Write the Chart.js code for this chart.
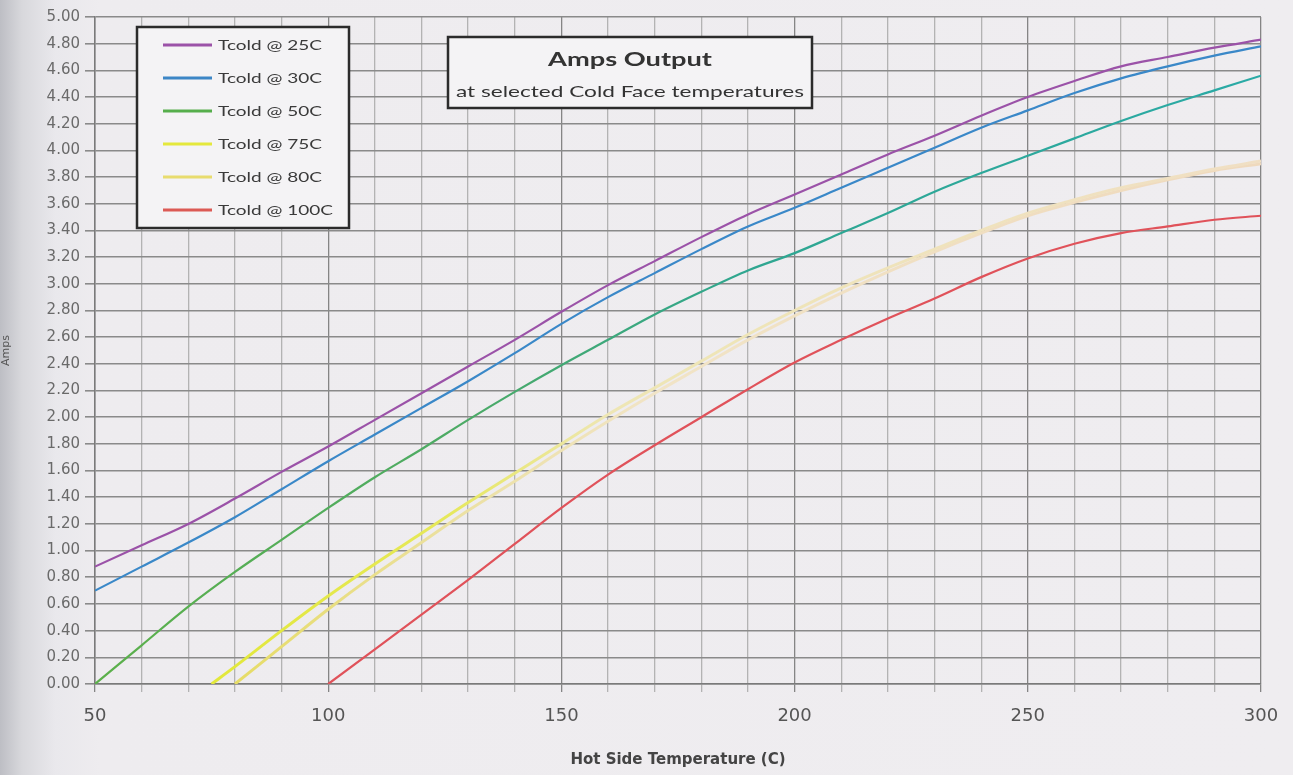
<!DOCTYPE html>
<html>
<head>
<meta charset="utf-8">
<script src="https://cdn.jsdelivr.net/npm/chart.js@4"></script>
<style>
  html, body { margin: 0; padding: 0; }
  #wrap {
    width: 1293px; height: 775px;
    background: linear-gradient(to right, #bdbec4 0px, #d8d8dc 22px, #e9e8ec 55px, #eeecef 100px, #efedf0 100%);
  }
</style>
</head>
<body>
<div id="wrap"><canvas id="ampsChart" width="1293" height="775"></canvas></div>
<script>
const FONT = 'Lato, "Open Sans", sans-serif';
const AXIS_FONT = '"DejaVu Sans", Lato, sans-serif';

// hot side temperatures (C) and amps
const hotTemps = [50, 60, 70, 80, 90, 100, 110, 120, 130, 140, 150, 160, 170, 180, 190, 200, 210, 220, 230, 240, 250, 260, 270, 280, 290, 300];
const amps25 = [0.88, 1.04, 1.20, 1.39, 1.59, 1.78, 1.98, 2.18, 2.38, 2.58, 2.79, 2.99, 3.17, 3.35, 3.52, 3.67, 3.82, 3.97, 4.11, 4.26, 4.40, 4.52, 4.63, 4.70, 4.77, 4.83];
const amps30 = [0.70, 0.88, 1.06, 1.25, 1.46, 1.67, 1.87, 2.07, 2.27, 2.48, 2.70, 2.90, 3.08, 3.26, 3.43, 3.57, 3.72, 3.87, 4.02, 4.17, 4.30, 4.43, 4.54, 4.63, 4.71, 4.78];
const amps50 = [0.00, 0.29, 0.58, 0.84, 1.08, 1.32, 1.55, 1.76, 1.98, 2.19, 2.39, 2.58, 2.77, 2.94, 3.10, 3.23, 3.38, 3.53, 3.69, 3.83, 3.96, 4.09, 4.22, 4.34, 4.45, 4.56];

const hotTemps75 = [75, 80, 90, 100, 110, 120, 130, 140, 150, 160, 170, 180, 190, 200, 210, 220, 230, 240, 250, 260, 270, 280, 290, 300];
const amps75 = [0.00, 0.13, 0.40, 0.66, 0.90, 1.13, 1.36, 1.58, 1.80, 2.02, 2.22, 2.42, 2.62, 2.80, 2.97, 3.12, 3.26, 3.40, 3.53, 3.63, 3.72, 3.79, 3.86, 3.92];

const hotTemps80 = [80, 90, 100, 110, 120, 130, 140, 150, 160, 170, 180, 190, 200, 210, 220, 230, 240, 250, 260, 270, 280, 290, 300];
const amps80 = [0.00, 0.28, 0.56, 0.82, 1.06, 1.30, 1.52, 1.75, 1.97, 2.18, 2.38, 2.58, 2.76, 2.93, 3.09, 3.24, 3.38, 3.51, 3.61, 3.70, 3.78, 3.85, 3.90];

const hotTemps100 = [100, 110, 120, 130, 140, 150, 160, 170, 180, 190, 200, 210, 220, 230, 240, 250, 260, 270, 280, 290, 300];
const amps100 = [0.00, 0.26, 0.52, 0.78, 1.05, 1.32, 1.57, 1.79, 2.00, 2.21, 2.41, 2.58, 2.74, 2.89, 3.05, 3.19, 3.30, 3.38, 3.43, 3.48, 3.51];

const seriesLabels = ['Tcold @ 25C', 'Tcold @ 30C', 'Tcold @ 50C', 'Tcold @ 75C', 'Tcold @ 80C', 'Tcold @ 100C'];
const legendColors = ['#9b52a8', '#3c86c6', '#56ae4c', '#e4e83c', '#e8dc6e', '#dc5a55'];

const pts = (xs, ys) => xs.map((x, i) => ({ x, y: ys[i] }));

// colour fades along x like in the scan (green -> teal, yellow -> pale)
function fade(stops, fallback) {
  return function(context) {
    const chart = context.chart;
    const area = chart.chartArea;
    if (!area) return fallback;
    const xs = chart.scales.x;
    const g = chart.ctx.createLinearGradient(area.left, 0, area.right, 0);
    stops.forEach(([v, c]) => {
      const p = (xs.getPixelForValue(v) - area.left) / (area.right - area.left);
      g.addColorStop(Math.min(1, Math.max(0, p)), c);
    });
    return g;
  };
}

// the scanned text is wide, so stretch it horizontally
function wideText(ctx, text, x, y, sx, align) {
  const w = ctx.measureText(text).width * sx;
  const left = align === 'center' ? x - w / 2 : x;
  ctx.save();
  ctx.translate(left, y);
  ctx.scale(sx, 1);
  ctx.textAlign = 'left';
  ctx.fillText(text, 0, 0);
  ctx.restore();
}

const boxesPlugin = {
  id: 'boxes',
  afterDatasetsDraw(chart) {
    const { ctx } = chart;
    ctx.save();

    // legend box
    const lx = 137, ly = 27, lw = 212, lh = 201;
    ctx.fillStyle = '#f4f3f5';
    ctx.fillRect(lx, ly, lw, lh);
    ctx.lineWidth = 2.5;
    ctx.strokeStyle = '#2b2b2b';
    ctx.strokeRect(lx, ly, lw, lh);
    ctx.font = '14px ' + FONT;
    ctx.textBaseline = 'middle';
    const legScale = 104 / ctx.measureText(seriesLabels[0]).width;
    chart.data.datasets.forEach((ds, i) => {
      const y = ly + 18 + i * 33;
      ctx.strokeStyle = legendColors[i];
      ctx.lineWidth = 3;
      ctx.beginPath();
      ctx.moveTo(lx + 26, y);
      ctx.lineTo(lx + 75, y);
      ctx.stroke();
      ctx.fillStyle = '#3a3a3a';
      wideText(ctx, ds.label, lx + 81, y, legScale, 'left');
    });

    // title box
    const tx = 448, ty = 37, tw = 364, th = 71;
    ctx.fillStyle = '#f4f3f5';
    ctx.fillRect(tx, ty, tw, th);
    ctx.lineWidth = 2.5;
    ctx.strokeStyle = '#2b2b2b';
    ctx.strokeRect(tx, ty, tw, th);
    ctx.fillStyle = '#333';
    ctx.font = 'bold 19px ' + FONT;
    wideText(ctx, 'Amps Output', tx + tw / 2, ty + 23, 164 / ctx.measureText('Amps Output').width, 'center');
    ctx.font = '15px ' + FONT;
    const sub = 'at selected Cold Face temperatures';
    wideText(ctx, sub, tx + tw / 2, ty + 55, 348 / ctx.measureText(sub).width, 'center');
    ctx.restore();
  }
};

const lineBase = { pointRadius: 0, borderWidth: 2.2, fill: false, cubicInterpolationMode: 'monotone' };

new Chart(document.getElementById('ampsChart'), {
  type: 'line',
  data: {
    datasets: [
      { ...lineBase, label: seriesLabels[0], data: pts(hotTemps, amps25), borderColor: '#9b52a8' },
      { ...lineBase, label: seriesLabels[1], data: pts(hotTemps, amps30), borderColor: '#3a88c8' },
      { ...lineBase, label: seriesLabels[2], data: pts(hotTemps, amps50),
        borderColor: fade([[50, '#5cb04a'], [130, '#4caa66'], [190, '#2fa690'], [300, '#2aaaa6']], '#4caf50') },
      { ...lineBase, label: seriesLabels[3], data: pts(hotTemps75, amps75), borderWidth: 3,
        borderColor: fade([[75, '#e2e83a'], [125, '#e6e85a'], [160, '#eee6b4'], [300, '#f0dfc4']], '#e4e83c') },
      { ...lineBase, label: seriesLabels[4], data: pts(hotTemps80, amps80), borderWidth: 3,
        borderColor: fade([[80, '#e6dc66'], [125, '#ebe0a0'], [170, '#f1e4c6'], [300, '#efd9bd']], '#e8dc6e') },
      { ...lineBase, label: seriesLabels[5], data: pts(hotTemps100, amps100), borderColor: '#e0525a' }
    ]
  },
  options: {
    responsive: false,
    animation: false,
    layout: { padding: { top: 17, right: 32, left: 0, bottom: 0 } },
    plugins: { legend: { display: false }, tooltip: { enabled: false } },
    scales: {
      x: {
        type: 'linear', min: 50, max: 300,
        ticks: {
          stepSize: 10, autoSkip: false, maxRotation: 0, padding: 14,
          callback: v => (v % 50 === 0 ? v : ''),
          color: '#555', font: { size: 18, family: AXIS_FONT }
        },
        grid: {
          color: c => (c.tick && c.tick.value % 50 === 0 ? '#858585' : '#b3b3b3'),
          lineWidth: 1.3, tickLength: 8
        },
        border: { color: '#7a7a7a', width: 1.5 },
        title: {
          display: true, text: 'Hot Side Temperature (C)', color: '#444',
          font: { size: 15, weight: 'bold', family: AXIS_FONT }, padding: { top: 4, bottom: 6 }
        },
        afterFit: s => { s.height = 91; }
      },
      y: {
        min: 0, max: 5,
        ticks: {
          stepSize: 0.2, autoSkip: false, padding: 5,
          callback: v => Number(v).toFixed(2),
          color: '#6a6a6a', font: { size: 15, family: AXIS_FONT }
        },
        grid: { color: '#8a8a8a', lineWidth: 1.6, tickLength: 10 },
        border: { color: '#7a7a7a', width: 1.5 },
        title: {
          display: true, text: 'Amps', color: '#555',
          font: { size: 11, family: AXIS_FONT }, padding: { top: 0, bottom: 6 }
        },
        afterFit: s => { s.width = 95; }
      }
    }
  },
  plugins: [boxesPlugin]
});
</script>
</body>
</html>
